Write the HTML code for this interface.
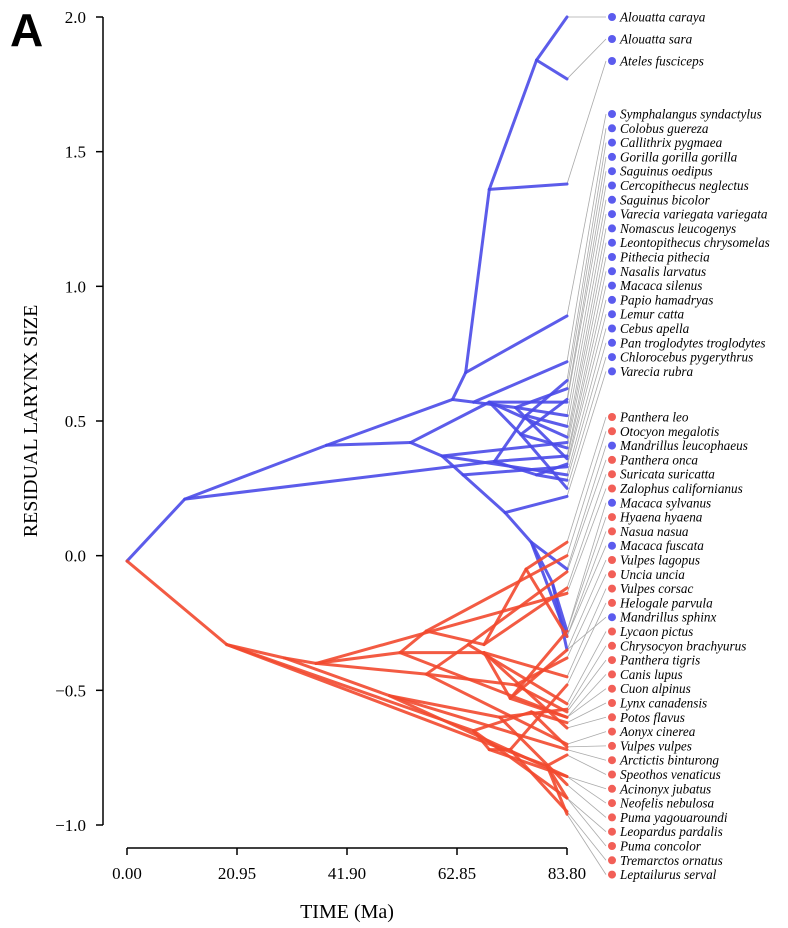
<!DOCTYPE html>
<html><head><meta charset="utf-8"><style>
html,body{margin:0;padding:0;background:#fff;}
svg{display:block;font-family:"Liberation Serif",serif;}
</style></head><body>
<svg id="chart" width="788" height="928" viewBox="0 0 788 928" xmlns="http://www.w3.org/2000/svg">
<text x="10" y="46" font-family="Liberation Sans, sans-serif" font-weight="bold" font-size="46">A</text>
<g id="axes"></g><g id="gray"></g><g id="tree"></g><g id="labels"></g>
<text x="347" y="918" text-anchor="middle" font-size="20">TIME (Ma)</text>
<text transform="translate(37,421) rotate(-90)" text-anchor="middle" font-size="20">RESIDUAL LARYNX SIZE</text>
</svg>
<script>
const xTicks=[0,20.95,41.9,62.85,83.8];
const xTickLabels=["0.00","20.95","41.90","62.85","83.80"];
const yTicks=[2.0,1.5,1.0,0.5,0.0,-0.5,-1.0];
const yTickLabels=["2.0","1.5","1.0","0.5","0.0","\u22120.5","\u22121.0"];
// blue clade nodes (index 0 = root)
const blueParent=[-1,0,1,2,2,4,5,6,6,8,8,5,4,12,12,14,14,3,17,17,19,19,21,21,23,24,24,23,3,28,28,30,30,1,33,33,35,35,33,38,38,14,17,30,28,23];
const blueTime=[0,11,38,54,62,64.5,69,83.8,78,83.8,83.8,83.8,66,83.8,74,83.8,83.8,60,83.8,64,83.8,72,83.8,77,81,83.8,83.8,83.8,69,83.8,75,83.8,83.8,70,83.8,76,83.8,83.8,78,83.8,83.8,83.8,83.8,83.8,83.8,83.8];
const blueValue=[-0.02,0.21,0.41,0.42,0.58,0.68,1.36,1.38,1.84,2.0,1.77,0.89,0.57,0.72,0.55,0.62,0.36,0.37,0.42,0.3,0.33,0.16,0.22,0.05,-0.1,-0.28,-0.35,-0.05,0.57,0.57,0.45,0.4,0.25,0.35,0.37,0.52,0.65,0.48,0.3,0.28,0.34,0.52,0.3,0.58,0.44,-0.3];
// red clade nodes (parent -1 = shared root)
const redParent=[-1,0,1,2,3,4,4,6,6,8,8,3,11,12,12,11,2,16,17,17,16,20,20,1,23,24,24,23,0,28,29,30,30,29,28,34,34,0,37,37,2,3,11,16,23,28,12,37];
const redTime=[19,30,36,52,57,83.8,68,83.8,76,83.8,83.8,68,73,83.8,83.8,83.8,57,65,83.8,83.8,74,83.8,83.8,50,71,83.8,83.8,83.8,66,69,73,83.8,83.8,83.8,77,83.8,83.8,80,83.8,83.8,83.8,83.8,83.8,83.8,83.8,83.8,83.8,83.8];
const redValue=[-0.33,-0.38,-0.4,-0.36,-0.28,0.0,-0.33,-0.12,-0.05,0.05,-0.3,-0.36,-0.53,-0.28,-0.6,-0.45,-0.44,-0.33,-0.06,-0.55,-0.48,-0.38,-0.58,-0.52,-0.6,-0.57,-0.85,-0.72,-0.65,-0.72,-0.72,-0.48,-0.95,-0.82,-0.58,-0.62,-0.71,-0.78,-0.9,-0.96,-0.14,-0.6,-0.64,-0.7,-0.82,-0.9,-0.35,-0.74];
const blueNames=["Alouatta caraya","Alouatta sara","Ateles fusciceps","Symphalangus syndactylus","Colobus guereza","Callithrix pygmaea","Gorilla gorilla gorilla","Saguinus oedipus","Cercopithecus neglectus","Saguinus bicolor","Varecia variegata variegata","Nomascus leucogenys","Leontopithecus chrysomelas","Pithecia pithecia","Nasalis larvatus","Macaca silenus","Papio hamadryas","Lemur catta","Cebus apella","Pan troglodytes troglodytes","Chlorocebus pygerythrus","Varecia rubra"];
const lowerNames=["Panthera leo","Otocyon megalotis","Mandrillus leucophaeus","Panthera onca","Suricata suricatta","Zalophus californianus","Macaca sylvanus","Hyaena hyaena","Nasua nasua","Macaca fuscata","Vulpes lagopus","Uncia uncia","Vulpes corsac","Helogale parvula","Mandrillus sphinx","Lycaon pictus","Chrysocyon brachyurus","Panthera tigris","Canis lupus","Cuon alpinus","Lynx canadensis","Potos flavus","Aonyx cinerea","Vulpes vulpes","Arctictis binturong","Speothos venaticus","Acinonyx jubatus","Neofelis nebulosa","Puma yagouaroundi","Leopardus pardalis","Puma concolor","Tremarctos ornatus","Leptailurus serval"];
const lowerClade=[1,1,0,1,1,1,0,1,1,0,1,1,1,1,0,1,1,1,1,1,1,1,1,1,1,1,1,1,1,1,1,1,1];

const NS="http://www.w3.org/2000/svg";
const X=t=>127+t*(440/83.8);
const Y=v=>17+(2-v)*(808/3);
const COL=["#4a4ae8","#f2492f"],DOT=["#5b5bee","#f25f57"];
function mk(tag,attrs,parent){const e=document.createElementNS(NS,tag);for(const k in attrs)e.setAttribute(k,attrs[k]);parent.appendChild(e);return e;}
const axes=document.getElementById('axes');
let a=mk('line',{x1:103,y1:Y(2),x2:103,y2:Y(-1),stroke:'#000','stroke-width':1.5},axes);

yTicks.forEach((v,i)=>{mk('line',{x1:96,x2:103,y1:Y(v),y2:Y(v),stroke:'#000','stroke-width':1.5},axes);
 const t=mk('text',{x:86,y:Y(v)+6,'text-anchor':'end','font-size':17},axes);t.textContent=yTickLabels[i];
 });
a=mk('line',{x1:X(0),y1:848,x2:X(83.8),y2:848,stroke:'#000','stroke-width':1.5},axes);

xTicks.forEach((v,i)=>{mk('line',{x1:X(v),x2:X(v),y1:848,y2:855,stroke:'#000','stroke-width':1.5},axes);
 const t=mk('text',{x:X(v),y:879,'text-anchor':'middle','font-size':17},axes);t.textContent=xTickLabels[i];
 });
const NB=blueParent.length;
const nodeParent=blueParent.concat(redParent.map(p=>p<0?0:p+NB));
const nodeTime=blueTime.concat(redTime);
const nodeValue=blueValue.concat(redValue);
const clade=nodeParent.map((p,i)=>i<NB?0:1);
const tree=document.getElementById('tree');
nodeParent.forEach((p,i)=>{if(p<0)return;
 const l=mk('line',{x1:X(nodeTime[p]),y1:Y(nodeValue[p]),x2:X(nodeTime[i]),y2:Y(nodeValue[i]),stroke:COL[clade[i]],'stroke-width':3,'stroke-linecap':'round','stroke-opacity':0.9},tree);
 });
const isParent=new Set(nodeParent);
const tips=nodeParent.map((p,i)=>i).filter(i=>!isParent.has(i)&&i>0);
const blueTips=tips.filter(i=>clade[i]===0).sort((a,b)=>nodeValue[b]-nodeValue[a]);
const redTips=tips.filter(i=>clade[i]===1).sort((a,b)=>nodeValue[b]-nodeValue[a]);
const slots=[];
blueNames.forEach((n,i)=>slots.push({name:n,c:0,y:i<3?17+i*22:114+(i-3)*14.3}));
lowerNames.forEach((n,i)=>slots.push({name:n,c:lowerClade[i],y:417+i*14.3}));
const bs=slots.filter(s=>s.c===0),rs=slots.filter(s=>s.c===1);
const gray=document.getElementById('gray'),lab=document.getElementById('labels');
function connect(tipList,slotList){slotList.forEach((s,k)=>{const ti=tipList[Math.min(k,tipList.length-1)];
 const g=mk('line',{x1:X(83.8),y1:Y(nodeValue[ti]),x2:606,y2:s.y,stroke:'#aaa','stroke-width':0.8},gray);
 });}
connect(blueTips,bs);connect(redTips,rs);
slots.forEach(s=>{const d=mk('circle',{cx:612,cy:s.y,r:4,fill:DOT[s.c]},lab);
 
 const t=mk('text',{x:620,y:s.y+4.5,'font-size':13.2,'font-style':'italic'},lab);t.textContent=s.name;
 });
</script>
</body></html>
